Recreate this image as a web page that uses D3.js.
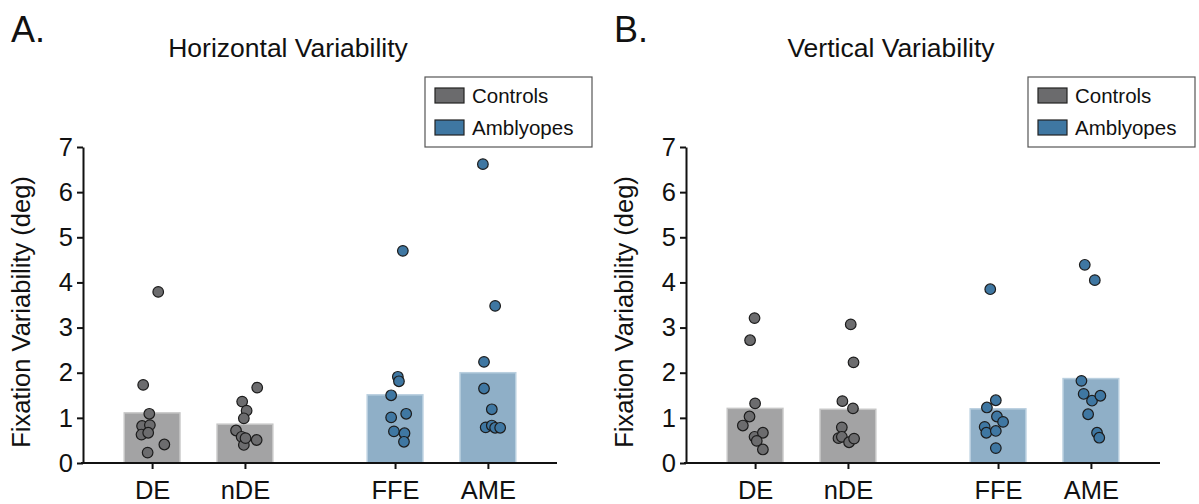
<!DOCTYPE html>
<html>
<head>
<meta charset="utf-8">
<script src="https://cdn.jsdelivr.net/npm/d3@7"></script>
<style>
  body { margin: 0; background: #fff; }
  svg { display: block; }
  text { font-family: "Liberation Sans", Arial, Helvetica, sans-serif; fill: #111; }
</style>
</head>
<body>
<svg id="chart" width="1199" height="504"></svg>
<script>
// ---- data ---------------------------------------------------------------
const categories = ["DE", "nDE", "FFE", "AME"];
const groups = ["Controls", "Amblyopes"];
const controlEyes = ["DE", "nDE"];
const amblyopeEyes = ["FFE", "AME"];
const yTicks = [0, 1, 2, 3, 4, 5, 6, 7];

// group means (bars)
const horizMeans = [1.11, 0.86, 1.51, 2.00];
const vertMeans  = [1.21, 1.19, 1.20, 1.87];

// individual subjects, horizontal variability (deg)
const hDE  = [3.79, 1.73, 1.09, 0.82, 0.84, 0.63, 0.67, 0.41, 0.23];
const hNDE = [1.67, 1.36, 1.16, 0.99, 0.72, 0.58, 0.40, 0.51, 0.55];
const hFFE = [4.70, 1.91, 1.81, 1.50, 1.09, 1.01, 0.70, 0.66, 0.47];
const hAME = [6.62, 3.48, 2.24, 1.65, 1.19, 0.79, 0.83, 0.78, 0.78];

// individual subjects, vertical variability (deg)
const vDE  = [3.21, 2.72, 1.32, 1.03, 0.83, 0.58, 0.67, 0.49, 0.30];
const vNDE = [3.07, 2.23, 1.37, 1.21, 0.79, 0.55, 0.58, 0.46, 0.54];
const vFFE = [3.85, 1.39, 1.23, 1.03, 0.91, 0.80, 0.67, 0.71, 0.33];
const vAME = [4.39, 4.05, 1.82, 1.53, 1.38, 1.49, 1.08, 0.67, 0.56];

// horizontal scatter of each subject, as a fraction of the bar width
const hDEJit  = [0.11, -0.16, -0.05, -0.18, -0.04, -0.19, -0.07, 0.22, -0.08];
const hNDEJit = [0.22, -0.05, 0.03, -0.02, -0.16, -0.06, -0.02, 0.21, 0.01];
const hFFEJit = [0.14, 0.05, 0.07, -0.07, 0.20, -0.07, -0.02, 0.17, 0.16];
const hAMEJit = [-0.09, 0.13, -0.07, -0.07, 0.07, -0.04, 0.07, 0.13, 0.22];
const vDEJit  = [-0.01, -0.09, 0.00, -0.10, -0.22, -0.01, 0.14, 0.03, 0.14];
const vNDEJit = [0.05, 0.10, -0.10, 0.09, -0.11, -0.17, -0.11, 0.02, 0.11];
const vFFEJit = [-0.14, -0.04, -0.20, -0.02, 0.09, -0.24, -0.21, -0.04, -0.04];
const vAMEJit = [-0.11, 0.07, -0.17, -0.13, 0.02, 0.17, -0.05, 0.11, 0.15];

// ---- styling ------------------------------------------------------------
const colors = {
  Controls:  { bar: "#a3a3a4", barEdge: "#c6c6c6", dot: "#6c6c6e", swatch: "#6b6b6d" },
  Amblyopes: { bar: "#8fafc7", barEdge: "#b9cfdf", dot: "#3f77a2", swatch: "#3f77a2" }
};
const groupOf = { DE: "Controls", nDE: "Controls", FFE: "Amblyopes", AME: "Amblyopes" };
const FONT = "'Liberation Sans', Arial, Helvetica, sans-serif";

const svg = d3.select("#chart");

const plotW = 474;     // x-axis length
const y = d3.scaleLinear().domain([0, 7]).range([463, 147]);

const outer = d3.scaleBand().domain(groups).range([0, plotW])
  .paddingInner(0.205).paddingOuter(0.078);
const inner = {
  Controls:  d3.scaleBand().domain(controlEyes).range([0, outer.bandwidth()]).paddingInner(0.4).paddingOuter(0.24),
  Amblyopes: d3.scaleBand().domain(amblyopeEyes).range([0, outer.bandwidth()]).paddingInner(0.4).paddingOuter(0.24)
};
const barW = inner.Controls.bandwidth();
const center = c => outer(groupOf[c]) + inner[groupOf[c]](c) + barW / 2;
const xCenters = d3.scaleOrdinal().domain(categories).range(categories.map(center));

function drawPanel(originX, letter, title, means, values, jitters) {
  const g = svg.append("g").attr("transform", `translate(${originX},0)`);

  // bars
  g.selectAll("rect.bar").data(categories).join("rect")
    .attr("class", "bar")
    .attr("x", c => xCenters(c) - barW / 2)
    .attr("width", barW)
    .attr("y", (c, i) => y(means[i]))
    .attr("height", (c, i) => y(0) - y(means[i]))
    .attr("fill", c => colors[groupOf[c]].bar)
    .attr("stroke", c => colors[groupOf[c]].barEdge)
    .attr("stroke-width", 1.5);

  // subject dots
  categories.forEach((c, i) => {
    const pts = values[i].map((v, k) => ({ v, j: jitters[i][k] }));
    g.append("g").selectAll("circle").data(pts).join("circle")
      .attr("cx", d => xCenters(c) + d.j * barW)
      .attr("cy", d => y(d.v))
      .attr("r", 5.3)
      .attr("fill", colors[groupOf[c]].dot)
      .attr("stroke", "#1c1c1c")
      .attr("stroke-width", 1.2);
  });

  // y axis
  const ya = g.append("g")
    .call(d3.axisLeft(y).tickValues(yTicks).tickFormat(d3.format("d")).tickSize(6).tickPadding(4).tickSizeOuter(0));
  ya.select(".domain").attr("stroke", "#111").attr("stroke-width", 2);
  ya.selectAll(".tick line").attr("stroke", "#111").attr("stroke-width", 2);
  ya.selectAll(".tick text").attr("font-size", 25.5).attr("fill", "#111")
    .style("font-family", FONT);

  // x axis
  const xa = g.append("g").attr("transform", `translate(0,${y(0)})`)
    .call(d3.axisBottom(xCenters).tickSize(6).tickPadding(12));
  xa.select(".domain").remove();
  xa.insert("line", ":first-child").attr("x1", -2).attr("x2", plotW)
    .attr("stroke", "#111").attr("stroke-width", 2);
  xa.selectAll(".tick line").attr("stroke", "#111").attr("stroke-width", 2);
  xa.selectAll(".tick text").attr("font-size", 25.5).attr("fill", "#111")
    .style("font-family", FONT);

  // axis title
  g.append("text")
    .attr("transform", `translate(-53,312) rotate(-90)`)
    .attr("text-anchor", "middle")
    .attr("font-size", 25.5)
    .text("Fixation Variability (deg)");

  // panel title and letter
  g.append("text").attr("x", 205).attr("y", 57).attr("text-anchor", "middle")
    .attr("font-size", 26.5).text(title);
  g.append("text").attr("x", -72).attr("y", 42).attr("font-size", 36).text(letter);

  // legend
  const lg = g.append("g").attr("transform", "translate(342,77)");
  lg.append("rect").attr("width", 167).attr("height", 70)
    .attr("fill", "#fff").attr("stroke", "#555").attr("stroke-width", 1.2);
  groups.forEach((k, i) => {
    lg.append("rect").attr("x", 10).attr("y", 11 + i * 32).attr("width", 29).attr("height", 15)
      .attr("fill", colors[k].swatch).attr("stroke", "#222").attr("stroke-width", 1.2);
    lg.append("text").attr("x", 47).attr("y", 26 + i * 32).attr("font-size", 20.5).text(k);
  });
}

drawPanel(83, "A.", "Horizontal Variability", horizMeans,
  [hDE, hNDE, hFFE, hAME], [hDEJit, hNDEJit, hFFEJit, hAMEJit]);
drawPanel(686, "B.", "Vertical Variability", vertMeans,
  [vDE, vNDE, vFFE, vAME], [vDEJit, vNDEJit, vFFEJit, vAMEJit]);
</script>
</body>
</html>
